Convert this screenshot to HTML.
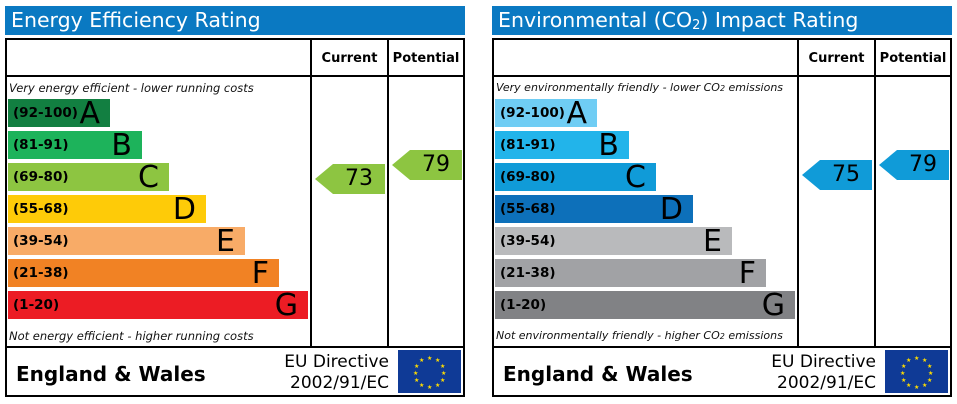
<!DOCTYPE html>
<html><head><meta charset="utf-8"><style>
*{margin:0;padding:0;box-sizing:border-box}
body{width:957px;height:404px;background:#fff;position:relative;overflow:hidden;font-family:"DejaVu Sans","Liberation Sans",sans-serif}
.p{position:absolute;top:0;width:470px;height:404px}
.t{position:absolute;left:5px;top:6px;width:460px;height:29px;background:#0a79c2;color:#fff;font-size:20.5px;line-height:29px;padding-left:6px}
.box{position:absolute;left:5px;top:38px;width:460px;height:359px;border:2px solid #000}
.vl{position:absolute;top:0;width:2px;height:308px;background:#000}
.hl{position:absolute;left:0;width:456px;height:2px;background:#000}
.h{position:absolute;top:11px;font-size:13px;font-weight:bold;text-align:center}
.bar{position:absolute;left:1px;height:28px;color:#000}
.bar .r{position:absolute;left:5px;top:6px;font-size:13.5px;font-weight:bold}
.bar .l{position:absolute;right:10px;top:0;font-size:30px;line-height:30px}
.it{position:absolute;left:2px;font-size:11.5px;font-style:italic;color:#111}
.ew{position:absolute;left:9px;top:322px;font-size:20px;font-weight:bold}
.eu{position:absolute;left:262px;top:312px;width:120px;font-size:17px;line-height:21px;text-align:right}
.flag{position:absolute;left:391px;top:310px;width:63px;height:43px;background:#0f3a96}
.arr{position:absolute;width:70px;height:30px}
.arr div{position:absolute;left:18px;right:0;top:0;bottom:0;text-align:center;font-size:22px;line-height:30px;color:#000}
</style></head><body>

<div class="p" style="left:0">
<div class="t">Energy Efficiency Rating</div>
<div class="box">
 <div class="hl" style="top:35px"></div>
 <div class="hl" style="top:306px"></div>
 <div class="vl" style="left:303px"></div>
 <div class="vl" style="left:380px"></div>
 <div class="h" style="left:305px;width:75px">Current</div>
 <div class="h" style="left:382px;width:74px">Potential</div>
 <div class="it" style="top:41px">Very energy efficient - lower running costs</div>
 <div class="bar" style="top:59px;width:102px;background:#127f41"><span class="r">(92-100)</span><span class="l">A</span></div>
 <div class="bar" style="top:91px;width:134px;background:#1db35b"><span class="r">(81-91)</span><span class="l">B</span></div>
 <div class="bar" style="top:123px;width:161px;background:#8dc541"><span class="r">(69-80)</span><span class="l">C</span></div>
 <div class="bar" style="top:155px;width:198px;background:#fecb08"><span class="r">(55-68)</span><span class="l">D</span></div>
 <div class="bar" style="top:187px;width:237px;background:#f8ab67"><span class="r">(39-54)</span><span class="l">E</span></div>
 <div class="bar" style="top:219px;width:271px;background:#f18224"><span class="r">(21-38)</span><span class="l">F</span></div>
 <div class="bar" style="top:251px;width:300px;background:#ec1c24"><span class="r">(1-20)</span><span class="l">G</span></div>
 <div class="it" style="top:289px">Not energy efficient - higher running costs</div>
 <div class="ew">England &amp; Wales</div>
 <div class="eu">EU Directive<br>2002/91/EC</div>
 <div class="flag"><svg width="63" height="43"><g fill="#ffdd00" font-size="6"><text x="29" y="10">★</text><text x="37" y="12">★</text><text x="42" y="18">★</text><text x="43" y="25">★</text><text x="42" y="32">★</text><text x="37" y="37">★</text><text x="29" y="39">★</text><text x="21" y="37">★</text><text x="16" y="32">★</text><text x="15" y="25">★</text><text x="16" y="18">★</text><text x="21" y="12">★</text></g></svg></div>
</div>
<div class="arr" style="left:315px;top:164px;background:#8dc541;clip-path:polygon(0 50%,18px 0,100% 0,100% 100%,18px 100%)"><div>73</div></div>
<div class="arr" style="left:392px;top:150px;background:#8dc541;clip-path:polygon(0 50%,18px 0,100% 0,100% 100%,18px 100%)"><div>79</div></div>
</div>

<div class="p" style="left:487px">
<div class="t">Environmental (CO<sub style="font-size:13px;vertical-align:-2px">2</sub>) Impact Rating</div>
<div class="box">
 <div class="hl" style="top:35px"></div>
 <div class="hl" style="top:306px"></div>
 <div class="vl" style="left:303px"></div>
 <div class="vl" style="left:380px"></div>
 <div class="h" style="left:305px;width:75px">Current</div>
 <div class="h" style="left:382px;width:74px">Potential</div>
 <div class="it" style="top:41px;font-size:11px">Very environmentally friendly - lower CO<span style="font-size:8px">2</span> emissions</div>
 <div class="bar" style="top:59px;width:102px;background:#6fcdf4"><span class="r">(92-100)</span><span class="l">A</span></div>
 <div class="bar" style="top:91px;width:134px;background:#22b4ea"><span class="r">(81-91)</span><span class="l">B</span></div>
 <div class="bar" style="top:123px;width:161px;background:#109bd8"><span class="r">(69-80)</span><span class="l">C</span></div>
 <div class="bar" style="top:155px;width:198px;background:#0d70ba"><span class="r">(55-68)</span><span class="l">D</span></div>
 <div class="bar" style="top:187px;width:237px;background:#b9babc"><span class="r">(39-54)</span><span class="l">E</span></div>
 <div class="bar" style="top:219px;width:271px;background:#a1a2a5"><span class="r">(21-38)</span><span class="l">F</span></div>
 <div class="bar" style="top:251px;width:300px;background:#818285"><span class="r">(1-20)</span><span class="l">G</span></div>
 <div class="it" style="top:289px;font-size:11px">Not environmentally friendly - higher CO<span style="font-size:8px">2</span> emissions</div>
 <div class="ew">England &amp; Wales</div>
 <div class="eu">EU Directive<br>2002/91/EC</div>
 <div class="flag"><svg width="63" height="43"><g fill="#ffdd00" font-size="6"><text x="29" y="10">★</text><text x="37" y="12">★</text><text x="42" y="18">★</text><text x="43" y="25">★</text><text x="42" y="32">★</text><text x="37" y="37">★</text><text x="29" y="39">★</text><text x="21" y="37">★</text><text x="16" y="32">★</text><text x="15" y="25">★</text><text x="16" y="18">★</text><text x="21" y="12">★</text></g></svg></div>
</div>
<div class="arr" style="left:315px;top:160px;background:#109bd8;clip-path:polygon(0 50%,18px 0,100% 0,100% 100%,18px 100%)"><div>75</div></div>
<div class="arr" style="left:392px;top:150px;background:#109bd8;clip-path:polygon(0 50%,18px 0,100% 0,100% 100%,18px 100%)"><div>79</div></div>
</div>
</body></html>
